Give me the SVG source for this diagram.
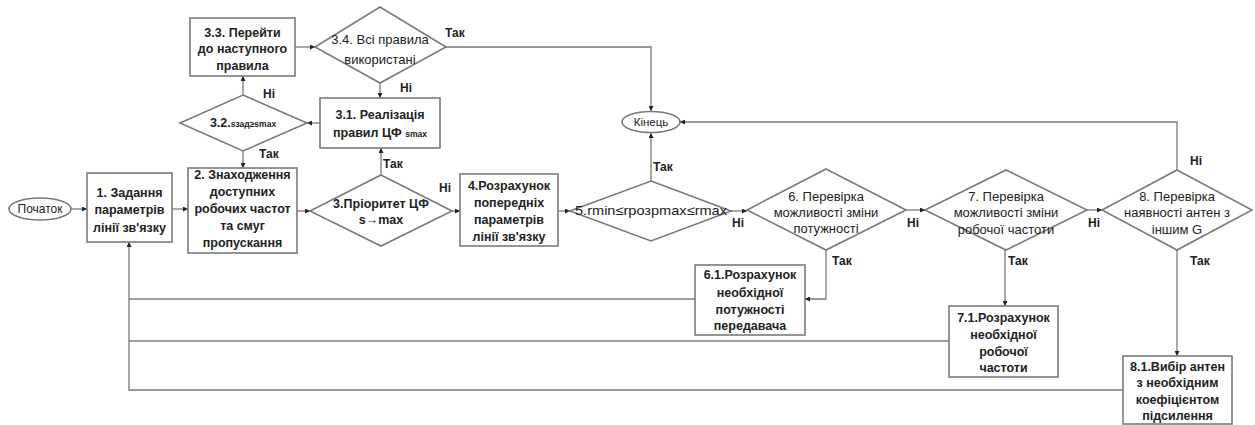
<svg xmlns="http://www.w3.org/2000/svg" width="1255" height="425" viewBox="0 0 1255 425">
<style>
.shape{fill:#fff;stroke:#7a7a7a;stroke-width:1.6}
.t{font-family:"Liberation Sans",Arial,sans-serif;font-size:12.5px;font-weight:bold;fill:#222;text-anchor:middle}
.d{font-family:"Liberation Sans",Arial,sans-serif;font-size:13px;fill:#222;text-anchor:middle}
.lbl{font-family:"Liberation Sans",Arial,sans-serif;font-size:12px;font-weight:bold;fill:#222}
.c{fill:none;stroke:#7a7a7a;stroke-width:1.3}
.cw{fill:none;stroke:#a0a0a0;stroke-width:2.2}
.sm{font-size:8.5px}
</style>
<defs>
<marker id="ah" viewBox="0 0 10 10" refX="10" refY="5" markerWidth="5" markerHeight="5" orient="auto" markerUnits="userSpaceOnUse">
<path d="M0,0 L10,5 L0,10 z" fill="#222"/>
</marker>
</defs>

<g id="connectors">
<path class="c" d="M71,209 H87" marker-end="url(#ah)"/>
<path class="c" d="M172,209 H188" marker-end="url(#ah)"/>
<path class="c" d="M297,211 H310" marker-end="url(#ah)"/>
<path class="c" d="M452,211 H460" marker-end="url(#ah)"/>
<path class="c" d="M558,211 H570" marker-end="url(#ah)"/>
<path class="c" d="M731,211 H747" marker-end="url(#ah)"/>
<path class="c" d="M906,210 H925" marker-end="url(#ah)"/>
<path class="c" d="M1087,210 H1102" marker-end="url(#ah)"/>
<path class="c" d="M381,175 V148" marker-end="url(#ah)"/>
<path class="c" d="M320,123 H307" marker-end="url(#ah)"/>
<path class="c" d="M243,95 V76" marker-end="url(#ah)"/>
<path class="c" d="M243,151 V168" marker-end="url(#ah)"/>
<path class="c" d="M295,47 H315" marker-end="url(#ah)"/>
<path class="c" d="M380,83 V98" marker-end="url(#ah)"/>
<path class="c" d="M446,47 H651 V111" marker-end="url(#ah)"/>
<path class="c" d="M651,181 V133" marker-end="url(#ah)"/>
<path class="c" d="M1177,170 V122 H680" marker-end="url(#ah)"/>
<path class="c" d="M826,250 V299 H805" marker-end="url(#ah)"/>
<path class="c" d="M1005,250 V306" marker-end="url(#ah)"/>
<path class="c" d="M1177,250 V356" marker-end="url(#ah)"/>
<path class="cw" d="M695,299 H129"/>
<path class="cw" d="M949,341 H129"/>
<path class="c" d="M1123,390 H129 V242" marker-end="url(#ah)"/>
<text class="lbl" x="445" y="37">Так</text>
<text class="lbl" x="400" y="92">Ні</text>
<text class="lbl" x="263" y="98">Ні</text>
<text class="lbl" x="259" y="158">Так</text>
<text class="lbl" x="383" y="168">Так</text>
<text class="lbl" x="439" y="192">Ні</text>
<text class="lbl" x="653" y="171">Так</text>
<text class="lbl" x="732" y="227">Ні</text>
<text class="lbl" x="907" y="227">Ні</text>
<text class="lbl" x="1088" y="227">Ні</text>
<text class="lbl" x="1190" y="165">Ні</text>
<text class="lbl" x="832" y="265">Так</text>
<text class="lbl" x="1008" y="265">Так</text>
<text class="lbl" x="1190" y="265">Так</text>
</g>

<g id="start">
<ellipse class="shape" cx="40" cy="209" rx="31" ry="11"/>
<text class="t" x="40" y="213" style="font-weight:normal;font-size:12px">Початок</text>
</g>

<g id="end">
<ellipse class="shape" cx="651" cy="122" rx="29" ry="10.5"/>
<text class="t" x="651" y="126" style="font-weight:normal;font-size:11.5px">Кінець</text>
</g>

<g id="n1">
<rect class="shape" x="87" y="173" width="85" height="69"/>
<text class="t" x="129.5" y="197">1. Задання</text>
<text class="t" x="129.5" y="214">параметрів</text>
<text class="t" x="129.5" y="232">лінії зв'язку</text>
</g>

<g id="n2">
<rect class="shape" x="188" y="168" width="109" height="85"/>
<text class="t" x="242.5" y="179">2. Знаходження</text>
<text class="t" x="242.5" y="196">доступних</text>
<text class="t" x="242.5" y="213">робочих частот</text>
<text class="t" x="242.5" y="230">та смуг</text>
<text class="t" x="242.5" y="247">пропускання</text>
</g>

<g id="n3">
<polygon class="shape" points="381,175 452,211 381,246 310,211"/>
<text class="t" x="381" y="208">3.Пріоритет ЦФ</text>
<text class="t" x="381" y="224">s→max</text>
</g>

<g id="n3_1">
<rect class="shape" x="320" y="98" width="120" height="50"/>
<text class="t" x="380" y="119">3.1. Реалізація</text>
<text class="t" x="380" y="137">правил ЦФ <tspan class="sm">smax</tspan></text>
</g>

<g id="n3_2">
<polygon class="shape" points="243,95 307,123 243,151 180,123"/>
<text class="t" x="243" y="127">3.2.<tspan class="sm">sзад≥smax</tspan></text>
</g>

<g id="n3_3">
<rect class="shape" x="190" y="18" width="105" height="58"/>
<text class="t" x="242.5" y="37">3.3. Перейти</text>
<text class="t" x="242.5" y="53">до наступного</text>
<text class="t" x="242.5" y="70">правила</text>
</g>

<g id="n3_4">
<polygon class="shape" points="380,7 446,47 380,83 315,47"/>
<text class="d" x="380" y="44">3.4. Всі правила</text>
<text class="d" x="380" y="64">використані</text>
</g>

<g id="n4">
<rect class="shape" x="460" y="174" width="98" height="72"/>
<text class="t" x="509" y="190">4.Розрахунок</text>
<text class="t" x="509" y="207">попередніх</text>
<text class="t" x="509" y="224">параметрів</text>
<text class="t" x="509" y="241">лінії зв'язку</text>
</g>

<g id="n5">
<polygon class="shape" points="651,181 731,211 651,241 570,211"/>
<text class="d" x="651" y="215" textLength="152" lengthAdjust="spacingAndGlyphs">5.rmin≤rрозрmax≤rmax</text>
</g>

<g id="n6">
<polygon class="shape" points="826,169 906,210 826,250 747,210"/>
<text class="d" x="826" y="201">6. Перевірка</text>
<text class="d" x="826" y="217">можливості зміни</text>
<text class="d" x="826" y="233">потужності</text>
</g>

<g id="n6_1">
<rect class="shape" x="695" y="265" width="110" height="70"/>
<text class="t" x="750" y="279">6.1.Розрахунок</text>
<text class="t" x="750" y="297">необхідної</text>
<text class="t" x="750" y="314">потужності</text>
<text class="t" x="750" y="330">передавача</text>
</g>

<g id="n7">
<polygon class="shape" points="1006,170 1087,210 1006,250 925,210"/>
<text class="d" x="1006" y="201">7. Перевірка</text>
<text class="d" x="1006" y="217">можливості зміни</text>
<text class="d" x="1006" y="234">робочої частоти</text>
</g>

<g id="n7_1">
<rect class="shape" x="949" y="306" width="109" height="71"/>
<text class="t" x="1003.5" y="322">7.1.Розрахунок</text>
<text class="t" x="1003.5" y="339">необхідної</text>
<text class="t" x="1003.5" y="356">робочої</text>
<text class="t" x="1003.5" y="372">частоти</text>
</g>

<g id="n8">
<polygon class="shape" points="1177,170 1252,210 1177,250 1102,210"/>
<text class="d" x="1177" y="201">8. Перевірка</text>
<text class="d" x="1177" y="217">наявності антен з</text>
<text class="d" x="1177" y="234">іншим G</text>
</g>

<g id="n8_1">
<rect class="shape" x="1123" y="356" width="109" height="68"/>
<text class="t" x="1177.5" y="371">8.1.Вибір антен</text>
<text class="t" x="1177.5" y="387">з необхідним</text>
<text class="t" x="1177.5" y="404">коефіцієнтом</text>
<text class="t" x="1177.5" y="420">підсилення</text>
</g>
</svg>
